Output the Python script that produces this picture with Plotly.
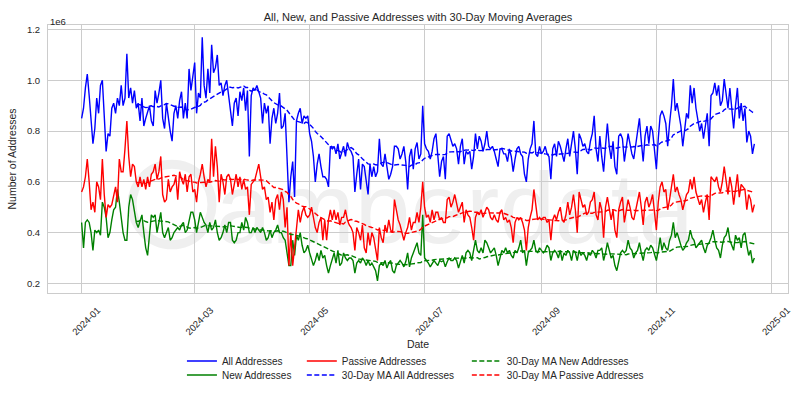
import pandas as pd
import plotly.graph_objects as go

start_date = "2024-01-01"
ma_window = 30

# Daily values, in millions of addresses, starting 2024-01-01
all_addresses = [
    0.85, 0.89, 0.97, 1.025, 0.94, 0.85, 0.75, 0.81, 0.93, 0.87,
    0.98, 1.00, 0.87, 0.72, 0.79, 0.78, 0.89, 0.91, 0.87, 0.93,
    0.90, 0.98, 0.90, 0.93, 1.105, 0.93, 0.97, 0.91, 0.96, 0.89,
    0.91,
    0.84, 0.93, 0.82, 0.85, 0.88, 0.90, 0.84, 0.82, 0.96, 0.91,
    0.95, 1.00, 0.85, 0.81, 0.91, 0.85, 0.80, 0.76, 0.87, 0.90,
    0.85, 0.92, 0.955, 0.85, 0.91, 0.85, 1.045, 0.96, 1.01, 1.07,
    0.87, 0.95, 0.93, 1.17, 0.98, 0.93, 1.045, 0.95, 1.14, 1.03,
    1.05, 1.10, 0.98, 0.99, 0.94, 0.98, 1.00, 0.94, 0.90, 0.82,
    0.91, 0.93, 0.86,
    0.955, 0.92, 0.97, 0.88, 0.96, 0.70, 0.94, 0.97, 0.96, 0.98,
    0.95, 0.93, 0.83, 0.91, 0.87, 0.90, 0.75, 0.85, 0.89, 0.83,
    0.87, 0.95, 0.81, 0.82, 0.87, 0.68, 0.52, 0.62, 0.68, 0.54,
    0.84, 0.87, 0.89, 0.83, 0.86, 0.85, 0.86, 0.79, 0.76, 0.70,
    0.60, 0.67, 0.71, 0.66, 0.62, 0.62, 0.61, 0.58, 0.74, 0.73,
    0.74, 0.71, 0.75, 0.69, 0.72, 0.74, 0.70, 0.755, 0.73,
    0.72, 0.70, 0.56, 0.63, 0.69, 0.57, 0.67, 0.66, 0.60, 0.55,
    0.67, 0.62, 0.66, 0.62, 0.64, 0.77, 0.67, 0.66, 0.71, 0.65,
    0.61, 0.63, 0.66, 0.74, 0.74, 0.73, 0.69, 0.71, 0.74, 0.68,
    0.57, 0.70, 0.73, 0.65, 0.73, 0.755, 0.69, 0.71, 0.90, 0.75,
    0.73, 0.72, 0.69, 0.72, 0.77, 0.79, 0.71, 0.62, 0.68, 0.70,
    0.61, 0.78, 0.79, 0.76,
    0.74, 0.75, 0.73, 0.67, 0.74, 0.77, 0.67, 0.72, 0.71, 0.72,
    0.65, 0.70, 0.79, 0.73, 0.78, 0.76, 0.72, 0.75, 0.80, 0.74,
    0.73, 0.74, 0.72, 0.69, 0.66, 0.73, 0.73, 0.71, 0.71, 0.68,
    0.73, 0.70, 0.64, 0.69, 0.73, 0.74, 0.71, 0.70, 0.63, 0.60,
    0.69, 0.73, 0.75, 0.84, 0.71, 0.70, 0.74, 0.71, 0.72, 0.74,
    0.71, 0.70,
    0.61, 0.73, 0.75, 0.70, 0.76, 0.74, 0.71, 0.68, 0.73, 0.77,
    0.70, 0.75, 0.80, 0.73, 0.63, 0.79, 0.77, 0.74, 0.75, 0.72,
    0.71, 0.76, 0.79, 0.86, 0.73, 0.68, 0.78, 0.70, 0.64, 0.74,
    0.83, 0.74, 0.69, 0.76, 0.66, 0.63, 0.78, 0.79, 0.77, 0.68,
    0.74, 0.79, 0.75, 0.71, 0.69, 0.75, 0.81, 0.85, 0.76, 0.68,
    0.78, 0.82, 0.75,
    0.82, 0.80, 0.72, 0.65, 0.77, 0.86, 0.88, 0.86, 0.83, 0.74,
    0.83, 0.90, 1.005, 0.88, 0.91, 0.86, 0.82, 0.74, 0.80, 0.87,
    0.85, 0.98, 0.91, 0.97, 0.89, 0.85, 0.80, 0.83, 0.77, 0.82,
    0.87, 0.74, 0.94, 0.95, 0.99, 0.94, 0.98, 0.90, 0.92, 1.005,
    0.95, 0.89, 0.97, 0.90, 0.81, 0.90, 0.97, 0.85, 0.91, 0.84,
    0.89, 0.755, 0.80, 0.78, 0.71, 0.75,
]

new_addresses = [
    0.44, 0.34, 0.44, 0.45, 0.44, 0.40, 0.33, 0.41, 0.40, 0.41,
    0.39, 0.52, 0.50, 0.46, 0.38, 0.40, 0.45, 0.49, 0.50, 0.57,
    0.52, 0.45, 0.40, 0.37, 0.37, 0.50, 0.55, 0.53, 0.49, 0.44,
    0.42,
    0.45, 0.47, 0.40, 0.34, 0.31, 0.38, 0.47, 0.46, 0.47, 0.40,
    0.44, 0.48, 0.40, 0.38, 0.40, 0.42, 0.37, 0.38, 0.40, 0.41,
    0.42, 0.41, 0.43, 0.44, 0.40, 0.41, 0.45, 0.48, 0.48, 0.45,
    0.40, 0.44, 0.48, 0.46, 0.44, 0.43, 0.40, 0.44, 0.41, 0.42,
    0.45, 0.40, 0.37, 0.38, 0.40, 0.43, 0.40, 0.44, 0.44, 0.37,
    0.36, 0.37, 0.40, 0.40, 0.44, 0.41, 0.46, 0.44, 0.40,
    0.40, 0.42, 0.40, 0.42, 0.41, 0.40, 0.42, 0.40, 0.37, 0.38,
    0.41, 0.38, 0.40, 0.41, 0.43, 0.40, 0.40, 0.38, 0.37, 0.32,
    0.27, 0.27, 0.37, 0.31, 0.39, 0.37, 0.40, 0.35, 0.32, 0.33,
    0.35, 0.32, 0.29, 0.27, 0.29, 0.32, 0.29, 0.33, 0.30, 0.31,
    0.27, 0.24, 0.27, 0.30, 0.32, 0.28, 0.33, 0.27, 0.28, 0.32,
    0.30, 0.29, 0.30,
    0.30, 0.29, 0.24, 0.28, 0.29, 0.28, 0.30, 0.29, 0.27, 0.29,
    0.27, 0.28, 0.265, 0.25, 0.21, 0.27, 0.28, 0.27, 0.29, 0.26,
    0.28, 0.29, 0.25, 0.24, 0.27, 0.28, 0.29, 0.28, 0.265, 0.285,
    0.32, 0.265, 0.30, 0.32, 0.34, 0.36, 0.32, 0.31, 0.47, 0.30,
    0.29, 0.28, 0.265, 0.28, 0.29, 0.28, 0.27, 0.29, 0.285, 0.29,
    0.265, 0.285, 0.30, 0.29,
    0.29, 0.30, 0.29, 0.26, 0.29, 0.31, 0.28, 0.32, 0.33, 0.32,
    0.29, 0.33, 0.37, 0.33, 0.32, 0.34, 0.32, 0.37, 0.36, 0.34,
    0.32, 0.33, 0.34, 0.31, 0.27, 0.30, 0.33, 0.32, 0.34, 0.32,
    0.33, 0.31, 0.30, 0.33, 0.32, 0.34, 0.37, 0.32, 0.33, 0.27,
    0.32, 0.33, 0.34, 0.37, 0.33, 0.32, 0.34, 0.33, 0.32, 0.33,
    0.35, 0.34,
    0.29, 0.32, 0.33, 0.32, 0.30, 0.33, 0.29, 0.32, 0.31, 0.33,
    0.32, 0.29, 0.33, 0.32, 0.29, 0.33, 0.31, 0.32, 0.31, 0.29,
    0.32, 0.31, 0.33, 0.32, 0.30, 0.33, 0.33, 0.34, 0.29, 0.32,
    0.36, 0.33, 0.30, 0.31, 0.27, 0.25, 0.29, 0.32, 0.33, 0.32,
    0.33, 0.37, 0.34, 0.33, 0.30, 0.32, 0.33, 0.36, 0.32, 0.29,
    0.33, 0.34, 0.33,
    0.35, 0.34, 0.31, 0.29, 0.33, 0.38, 0.33, 0.36, 0.34, 0.33,
    0.37, 0.39, 0.44, 0.38, 0.40, 0.37, 0.35, 0.33, 0.34, 0.36,
    0.37, 0.41, 0.38, 0.37, 0.34, 0.35, 0.36, 0.37, 0.34, 0.32,
    0.35, 0.36, 0.38, 0.41, 0.37, 0.34, 0.33, 0.30, 0.35, 0.38,
    0.39, 0.42, 0.37, 0.35, 0.33, 0.39, 0.37, 0.38, 0.34, 0.39,
    0.40, 0.35, 0.31, 0.33, 0.28, 0.30,
]

passive_addresses = [
    0.56, 0.58, 0.62, 0.69, 0.60, 0.49, 0.52, 0.48, 0.60, 0.58,
    0.53, 0.69, 0.55, 0.46, 0.51, 0.50, 0.51, 0.55, 0.58, 0.52,
    0.69, 0.64, 0.64, 0.73, 0.84, 0.70, 0.62, 0.67, 0.66, 0.60,
    0.58,
    0.62, 0.58, 0.61, 0.57, 0.62, 0.58, 0.63, 0.64, 0.67, 0.61,
    0.64, 0.70, 0.55, 0.52, 0.53, 0.61, 0.56, 0.58, 0.59, 0.62,
    0.53, 0.64, 0.61, 0.59, 0.63, 0.56, 0.62, 0.63, 0.56, 0.57,
    0.52, 0.60, 0.63, 0.67, 0.62, 0.58, 0.61, 0.60, 0.77, 0.62,
    0.74, 0.66, 0.52, 0.63, 0.60, 0.55, 0.62, 0.63, 0.61, 0.55,
    0.59, 0.63, 0.58, 0.62, 0.57, 0.61, 0.57, 0.58, 0.47,
    0.59, 0.60, 0.61, 0.64, 0.67, 0.62, 0.57, 0.58, 0.53, 0.54,
    0.48, 0.52, 0.45, 0.53, 0.55, 0.49, 0.56, 0.53, 0.42, 0.50,
    0.27, 0.40, 0.27, 0.34, 0.42, 0.49, 0.44, 0.48, 0.50, 0.47,
    0.46, 0.47, 0.50, 0.45, 0.42, 0.40, 0.44, 0.46, 0.37, 0.45,
    0.37, 0.45, 0.49, 0.45, 0.49, 0.45, 0.48, 0.43, 0.46, 0.46,
    0.49, 0.45, 0.43,
    0.42, 0.40, 0.33, 0.42, 0.40, 0.37, 0.43, 0.34, 0.32, 0.40,
    0.35, 0.40, 0.38, 0.34, 0.29, 0.42, 0.38, 0.36, 0.43, 0.40,
    0.45, 0.41, 0.40, 0.53, 0.49, 0.45, 0.43, 0.40, 0.37, 0.40,
    0.42, 0.46, 0.41, 0.44, 0.44, 0.48, 0.44, 0.50, 0.60, 0.50,
    0.46, 0.47, 0.44, 0.49, 0.45, 0.48, 0.48, 0.45, 0.46, 0.44,
    0.44, 0.53, 0.54, 0.50,
    0.52, 0.55, 0.51, 0.48, 0.50, 0.52, 0.44, 0.49, 0.47, 0.46,
    0.42, 0.37, 0.46, 0.48, 0.47, 0.49, 0.46, 0.48, 0.50, 0.49,
    0.46, 0.45, 0.47, 0.45, 0.44, 0.48, 0.49, 0.45, 0.46, 0.44,
    0.45, 0.42, 0.36, 0.44, 0.46, 0.45, 0.46, 0.44, 0.41, 0.33,
    0.42, 0.46, 0.49, 0.57, 0.50, 0.45, 0.46, 0.45, 0.46, 0.46,
    0.44, 0.45,
    0.37, 0.45, 0.47, 0.45, 0.48, 0.50, 0.45, 0.44, 0.47, 0.52,
    0.47, 0.50, 0.55, 0.49, 0.40, 0.56, 0.53, 0.50, 0.51, 0.47,
    0.48, 0.52, 0.53, 0.56, 0.47, 0.45, 0.52, 0.49, 0.38, 0.50,
    0.54, 0.50, 0.45, 0.49, 0.41, 0.38, 0.49, 0.52, 0.54, 0.44,
    0.49, 0.53, 0.50, 0.46, 0.45, 0.49, 0.53, 0.56, 0.50, 0.43,
    0.52, 0.54, 0.50,
    0.52, 0.55, 0.49, 0.41, 0.52, 0.58, 0.60, 0.56, 0.57, 0.49,
    0.53, 0.58, 0.63, 0.56, 0.58, 0.55, 0.53, 0.49, 0.52, 0.55,
    0.56, 0.61, 0.57, 0.62, 0.56, 0.53, 0.51, 0.53, 0.48, 0.52,
    0.55, 0.45, 0.62, 0.61, 0.60, 0.62, 0.58, 0.56, 0.60, 0.66,
    0.60, 0.55, 0.62, 0.58, 0.51, 0.56, 0.63, 0.54, 0.59, 0.58,
    0.57, 0.49, 0.55, 0.53, 0.48, 0.51,
]

TEXT = "#262626"
GRID = "#cccccc"
WATERMARK = "#efefef"
FONT = "Liberation Sans, Arial, sans-serif"


def daily(values):
    return pd.Series(values, index=pd.date_range(start_date, periods=len(values), freq="D"))


s_all = daily(all_addresses)
s_new = daily(new_addresses)
s_pas = daily(passive_addresses)
ma_all = s_all.rolling(ma_window).mean()
ma_new = s_new.rolling(ma_window).mean()
ma_pas = s_pas.rolling(ma_window).mean()

dash = "5px,2.5px"
lw = 1.4
specs = [
    (s_all, "All Addresses", "blue", "solid", "legend"),
    (s_new, "New Addresses", "green", "solid", "legend2"),
    (s_pas, "Passive Addresses", "red", "solid", "legend3"),
    (ma_all, "30-Day MA All Addresses", "blue", dash, "legend4"),
    (ma_new, "30-Day MA New Addresses", "green", dash, "legend5"),
    (ma_pas, "30-Day MA Passive Addresses", "red", dash, "legend6"),
]

fig = go.Figure()
for s, name, color, d, leg in specs:
    fig.add_trace(go.Scatter(
        x=s.index, y=s.values, mode="lines", name=name,
        line=dict(color=color, width=lw, dash=d), legend=leg,
    ))

# axis ranges with 5% padding around the data
x0, x1 = s_all.index[0], s_all.index[-1]
pad = (x1 - x0) * 0.05
ymin = min(min(all_addresses), min(new_addresses), min(passive_addresses))
ymax = max(max(all_addresses), max(new_addresses), max(passive_addresses))
ypad = (ymax - ymin) * 0.05

# legend placement (3 columns x 2 rows, column-major like the original)
col_x = [0.181, 0.343, 0.566]
row_y = [-0.254, -0.306]
legend_pos = {
    "legend": (col_x[0], row_y[0]), "legend2": (col_x[0], row_y[1]),
    "legend3": (col_x[1], row_y[0]), "legend4": (col_x[1], row_y[1]),
    "legend5": (col_x[2], row_y[0]), "legend6": (col_x[2], row_y[1]),
}
legend_layout = {
    k: dict(x=x, y=y, xanchor="left", yanchor="middle", orientation="v",
            bgcolor="rgba(0,0,0,0)", borderwidth=0,
            font=dict(family=FONT, size=10, color=TEXT))
    for k, (x, y) in legend_pos.items()
}

fig.update_layout(
    width=800, height=400,
    margin=dict(l=48, r=12, t=25, b=107, autoexpand=False),
    paper_bgcolor="white", plot_bgcolor="white",
    font=dict(family=FONT, size=10, color=TEXT),
    title=dict(text="All, New, and Passive Addresses with 30-Day Moving Averages",
               x=0.5, xref="paper", xanchor="center", y=0.958, yref="container",
               yanchor="middle", font=dict(size=11, color=TEXT)),
    showlegend=True,
    **legend_layout,
)

fig.update_xaxes(
    range=[x0 - pad, x1 + pad], type="date",
    tick0="2024-01-01", dtick="M2", tickformat="%Y-%m", tickangle=-45,
    ticklabelshift=16, ticklabelstandoff=7,
    showgrid=True, gridcolor=GRID, gridwidth=1,
    showline=True, linecolor=GRID, linewidth=1, mirror=True,
    zeroline=False, ticks="",
    tickfont=dict(size=9.5, color=TEXT),
    title=dict(text="Date", font=dict(size=10.5, color=TEXT), standoff=4),
)
fig.update_yaxes(
    range=[ymin - ypad, ymax + ypad],
    tickvals=[0.2, 0.4, 0.6, 0.8, 1.0, 1.2], tickformat=".1f",
    showgrid=True, gridcolor=GRID, gridwidth=1,
    showline=True, linecolor=GRID, linewidth=1, mirror=True,
    zeroline=False, ticks="", ticklabelstandoff=5,
    tickfont=dict(size=9.5, color=TEXT),
    title=dict(text="Number of Addresses", font=dict(size=10.5, color=TEXT), standoff=8),
)

# scale factor label
fig.add_annotation(text="1e6", xref="paper", yref="paper", x=0.0, y=1.0,
                   xanchor="left", yanchor="bottom", showarrow=False,
                   font=dict(size=9.5, color=TEXT), yshift=-4)

# faint watermark behind the data (logo ring + wordmark)
fig.add_shape(type="circle", xref="paper", yref="paper",
              x0=0.1135, x1=0.2216, y0=0.18, y1=0.48,
              line=dict(width=9, color=WATERMARK), fillcolor="rgba(0,0,0,0)", layer="below")
fig.add_shape(type="rect", xref="paper", yref="paper", x0=0.15, x1=0.95, y0=0.126, y1=0.576,
              line=dict(width=0), fillcolor="rgba(0,0,0,0)", layer="below",
              label=dict(text="amberdata", textposition="middle center",
                         font=dict(family=FONT, size=100, color=WATERMARK)))

fig.write_html("out.html", config={"displayModeBar": False},
               post_script="document.body.style.margin='0px';")
